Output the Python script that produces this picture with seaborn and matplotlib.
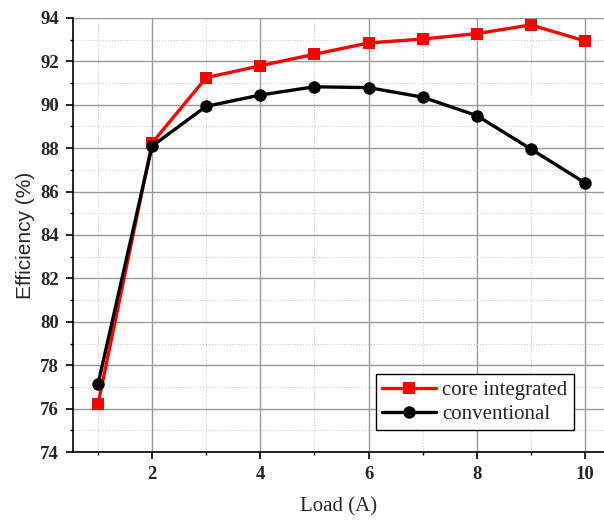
import pandas as pd
import matplotlib
matplotlib.use('Agg')
import matplotlib.pyplot as plt
from matplotlib.ticker import MultipleLocator
import seaborn as sns

# data
load = [1, 2, 3, 4, 5, 6, 7, 8, 9, 10]
core_integrated = [76.2, 88.24, 91.25, 91.8, 92.33, 92.85, 93.03, 93.28, 93.68, 92.94]
conventional = [77.13, 88.1, 89.93, 90.45, 90.83, 90.79, 90.35, 89.5, 87.96, 86.4]

df = pd.DataFrame({
    'Load': load * 2,
    'Efficiency': core_integrated + conventional,
    'Type': ['core integrated'] * len(load) + ['conventional'] * len(load),
})

sns.set_style('white')
plt.rcParams['font.family'] = ['Liberation Serif', 'DejaVu Serif']

fig = plt.figure(figsize=(6.04, 5.21), dpi=100)
ax = fig.add_axes([0.121, 0.1324, 0.879, 0.8331])

sns.lineplot(
    data=df, x='Load', y='Efficiency', hue='Type', style='Type',
    palette={'core integrated': 'red', 'conventional': 'black'},
    markers={'core integrated': 's', 'conventional': 'o'},
    dashes=False, linewidth=2.4, markersize=9, markeredgewidth=0,
    ax=ax, zorder=3,
)

ax.set_xlim(0.54, 10.35)
ax.set_ylim(74, 94)
ax.xaxis.set_major_locator(MultipleLocator(2))
ax.xaxis.set_minor_locator(MultipleLocator(1))
ax.yaxis.set_major_locator(MultipleLocator(2))
ax.yaxis.set_minor_locator(MultipleLocator(1))

ax.grid(which='major', color='#999999', linewidth=1.0, linestyle='-')
ax.grid(which='minor', color='#cccccc', linewidth=0.8, linestyle=':')
ax.set_axisbelow(True)

for side in ['top', 'right']:
    ax.spines[side].set_visible(False)
for side in ['left', 'bottom']:
    ax.spines[side].set_color('black')
    ax.spines[side].set_linewidth(1.2)

ax.tick_params(which='major', direction='out', length=5, width=1.2, color='black',
               left=True, bottom=True, labelsize=13.5, pad=5)
ax.tick_params(which='minor', direction='out', length=2.5, width=1.0, color='black',
               left=True, bottom=True)
for lbl in ax.get_xticklabels() + ax.get_yticklabels():
    lbl.set_fontweight('bold')

ax.set_xlabel('Load (A)', fontsize=15, labelpad=10)
ax.set_ylabel('Efficiency (%)', fontsize=15, family=['Liberation Sans', 'DejaVu Sans'], labelpad=4)

leg = ax.legend(loc='lower right', fontsize=15, frameon=True, fancybox=False,
                edgecolor='black', framealpha=1, borderpad=0.3, handlelength=2.6,
                handletextpad=0.3, borderaxespad=0, labelspacing=0.2,
                bbox_to_anchor=(0.943, 0.05))
leg.get_frame().set_linewidth(1.0)
leg.set_title(None)

fig.savefig('out.png', dpi=100)
